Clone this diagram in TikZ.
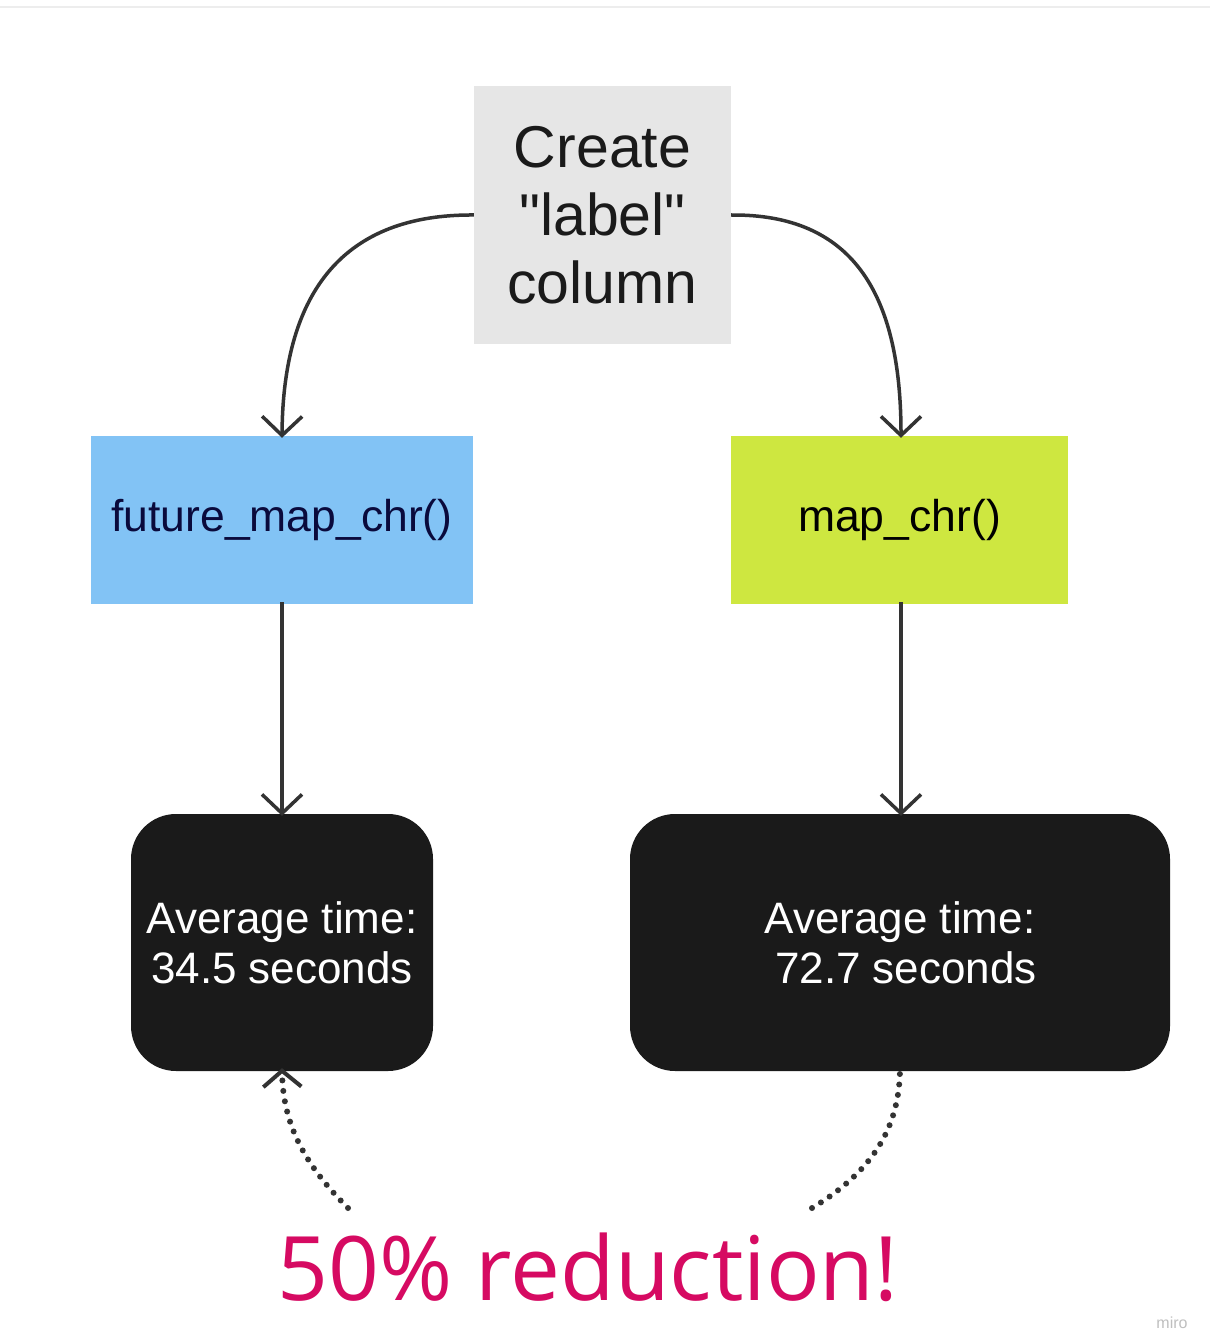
\documentclass[tikz,border=0pt]{standalone}
\usepackage{fontspec}
\setmainfont{Liberation Sans}[Ligatures=TeXOff]
\newfontfamily\redfont{Open Sans}
\usetikzlibrary{arrows.meta}
\definecolor{boxgray}{HTML}{E6E6E6}
\definecolor{boxblue}{HTML}{82C3F5}
\definecolor{boxlime}{HTML}{CEE740}
\definecolor{boxblack}{HTML}{1A1A1A}
\definecolor{navy}{HTML}{0A0A3C}
\definecolor{conn}{HTML}{333333}
\definecolor{redpink}{HTML}{D60A62}
\tikzset{
  flowbox/.style={draw=none, inner sep=0pt, align=center},
  conline/.style={draw=conn, line width=3.5pt, -{Straight Barb[length=19pt,width=40pt,line width=3.5pt]}},
  dotline/.style={draw=conn, line width=6pt, line cap=round, dash pattern=on 0pt off 10.5pt},
}
\begin{document}
\begin{tikzpicture}[x=1pt,y=-1pt]
\useasboundingbox (0,0) rectangle (1210,1332);
\fill[white] (0,0) rectangle (1210,1332);
\draw[color=black!7, line width=1.5pt] (0,7) -- (1210,7);

\node[flowbox, fill=boxgray, minimum width=257pt, minimum height=258pt, text=boxblack,
  font=\fontsize{59}{68}\selectfont] (create) at (602.5,215) {Create\\"label"\\column};

\node[flowbox, fill=boxblue, minimum width=382pt, minimum height=168pt, text=navy,
  font=\fontsize{44.5}{52}\selectfont] (fut) at (282,520) {\raisebox{-2pt}{future\_map\_chr()}};

\node[flowbox, fill=boxlime, minimum width=337pt, minimum height=168pt, text=black,
  font=\fontsize{44.5}{52}\selectfont] (map) at (899.5,520) {\raisebox{-2pt}{map\_chr()}};

\node[flowbox, fill=boxblack, rounded corners=45pt, minimum width=302pt, minimum height=257pt,
  text=white, font=\fontsize{44}{50}\selectfont] (avgl) at (282,942.5) {Average time:\\34.5 seconds};

\node[flowbox, fill=boxblack, rounded corners=45pt, minimum width=540pt, minimum height=257pt,
  text=white, font=\fontsize{44}{50}\selectfont] (avgr) at (900,942.5) {Average time:\\\hspace*{12pt}72.7 seconds};

\draw[conline] (create.west) .. controls (345,214) and (283,290) .. ([yshift=-2pt]fut.north);
\draw[conline] (create.east) .. controls (850,214) and (901,290) .. ([yshift=-2pt]map.north -| 901,0);
\draw[conline] ([yshift=2pt]fut.south) -- ([yshift=-2pt]avgl.north);
\draw[conline] ([yshift=2pt]map.south -| 901,0) -- ([yshift=-2pt]avgr.north -| 901,0);

\node[inner sep=0pt, text=redpink, font=\redfont\fontsize{89}{100}\selectfont, anchor=base] (red) at (588,1300) {50\% reduction!};

\coordinate (dl) at (348,1208);
\coordinate (dr) at (812,1208);
\draw[dotline, -{Straight Barb[length=16pt,width=38pt,line width=4pt]}] (dl) .. controls (305,1165) and (283,1125) .. ([yshift=3pt]avgl.south);
\draw[dotline] (dr) .. controls (875,1170) and (900,1125) .. ([yshift=4pt]avgr.south);

\node[text=black!25, font=\fontsize{16}{18}\selectfont, anchor=base, inner sep=0pt] (miro) at (1172,1328) {miro};
\end{tikzpicture}
\end{document}
